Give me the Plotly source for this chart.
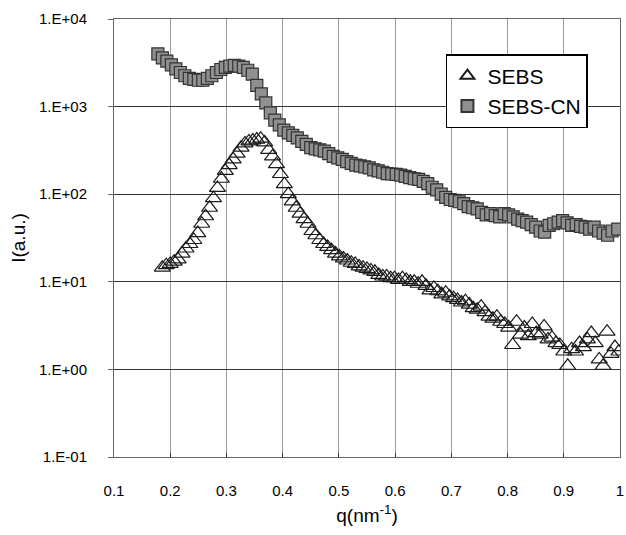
import plotly.graph_objects as go

# SEBS-CN (grey squares)
q_cn = [0.178, 0.186, 0.194, 0.202, 0.210, 0.218, 0.226, 0.234, 0.242, 0.250,
        0.258, 0.266, 0.274, 0.282, 0.290, 0.298, 0.306, 0.314, 0.322, 0.330,
        0.338, 0.346, 0.354, 0.362, 0.370, 0.378, 0.386, 0.394, 0.402, 0.410,
        0.418, 0.426, 0.434, 0.442, 0.450, 0.458, 0.466, 0.474, 0.482, 0.490,
        0.498, 0.506, 0.514, 0.522, 0.530, 0.538, 0.546, 0.554, 0.562, 0.570,
        0.578, 0.586, 0.594, 0.602, 0.610, 0.618, 0.626, 0.634, 0.642, 0.650,
        0.658, 0.666, 0.674, 0.682, 0.690, 0.698, 0.706, 0.714, 0.722, 0.730,
        0.738, 0.746, 0.754, 0.762, 0.770, 0.778, 0.786, 0.794, 0.802, 0.810,
        0.818, 0.826, 0.834, 0.842, 0.850, 0.858, 0.866, 0.874, 0.882, 0.890,
        0.898, 0.906, 0.914, 0.922, 0.930, 0.938, 0.946, 0.954, 0.962, 0.970,
        0.978, 0.986, 0.996]
i_cn = [4000, 3600, 3300, 3000, 2700, 2450, 2250, 2100, 2050, 2000,
        2000, 2100, 2250, 2450, 2650, 2800, 2900, 2950, 2900, 2800,
        2600, 2350, 1750, 1400, 1100, 850, 700, 620, 540, 500,
        470, 440, 400, 370, 340, 330, 320, 310, 290, 270,
        260, 250, 235, 225, 215, 210, 205, 200, 190, 185,
        178, 172, 170, 168, 165, 160, 155, 150, 148, 140,
        132, 120, 112, 100, 92, 87, 85, 82, 78, 72,
        70, 68, 62, 58, 60, 57, 55, 60, 58, 55,
        52, 50, 48, 45, 42, 38, 37, 44, 46, 48,
        50, 47, 44, 45, 43, 42, 40, 42, 38, 36,
        34, 38, 40]

# SEBS (open triangles)
q_sebs = [0.186, 0.193, 0.200, 0.207, 0.214, 0.221, 0.228, 0.235, 0.242, 0.249,
          0.256, 0.263, 0.270, 0.277, 0.284, 0.291, 0.298, 0.305, 0.312, 0.319,
          0.326, 0.333, 0.340, 0.347, 0.354, 0.361, 0.368, 0.375, 0.382, 0.389,
          0.396, 0.403, 0.410, 0.417, 0.424, 0.431, 0.438, 0.445, 0.452, 0.459,
          0.466, 0.473, 0.480, 0.487, 0.494, 0.501, 0.508, 0.515, 0.522, 0.529,
          0.536, 0.543, 0.550, 0.557, 0.564, 0.571, 0.578, 0.585, 0.592, 0.599,
          0.606, 0.613, 0.620, 0.627, 0.634, 0.641, 0.648, 0.655, 0.662, 0.669,
          0.676, 0.683, 0.690, 0.697, 0.704, 0.711, 0.718, 0.725, 0.732, 0.739,
          0.746, 0.753, 0.760, 0.767, 0.774, 0.781, 0.788, 0.795, 0.802, 0.809,
          0.816, 0.823, 0.830, 0.837, 0.844, 0.851, 0.858, 0.865, 0.872, 0.879,
          0.886, 0.893, 0.900, 0.907, 0.914, 0.921, 0.928, 0.935, 0.942, 0.949,
          0.956, 0.963, 0.970, 0.977, 0.984, 0.991, 0.998]
i_sebs = [14.5, 15.5, 16, 17, 18, 21, 24, 27, 30, 36,
          46, 56, 70, 90, 118, 150, 185, 215, 250, 290,
          340, 380, 400, 410, 420, 430, 390, 320, 270, 220,
          170, 130, 100, 83, 70, 60, 52, 46, 38, 34,
          30, 27, 25, 23, 21, 19.5, 18.5, 17.5, 16.5, 16,
          15, 14.5, 14, 13.5, 13, 12, 11.5, 11.5, 11, 11,
          10.5, 11, 10.5, 10, 10, 9.5, 10, 9, 8, 8.5,
          7.8, 7.2, 7.5, 6.8, 6.5, 6.2, 5.8, 6.0, 5.5, 5.0,
          4.8, 5.2, 4.5, 4.0, 3.8, 4.0, 3.5, 3.3, 3.0, 1.9,
          3.5, 2.5, 3.0, 2.4, 3.3, 2.6, 2.5, 3.1, 2.2, 2.3,
          2.0, 1.9, 1.6, 1.1, 1.7, 1.6, 2.0, 1.8, 2.2, 2.6,
          2.0, 1.3, 1.1, 2.7, 1.5, 1.8, 1.6]

x_ticks = [0.1, 0.2, 0.3, 0.4, 0.5, 0.6, 0.7, 0.8, 0.9, 1.0]
x_tick_text = ["0.1", "0.2", "0.3", "0.4", "0.5", "0.6", "0.7", "0.8", "0.9", "1"]
y_ticks = [0.1, 1, 10, 100, 1000, 10000]
y_tick_text = ["1.E-01", "1.E+00", "1.E+01", "1.E+02", "1.E+03", "1.E+04"]

font_family = "Liberation Sans, Arial, sans-serif"

fig = go.Figure()
fig.add_trace(go.Scatter(
    x=q_sebs, y=i_sebs, mode="markers", name="SEBS",
    marker=dict(symbol="triangle-up-open", size=14, color="#1a1a1a",
                line=dict(width=1.2, color="#1a1a1a")),
))
fig.add_trace(go.Scatter(
    x=q_cn, y=i_cn, mode="markers", name="SEBS-CN",
    marker=dict(symbol="square", size=12, color="#909090",
                line=dict(width=1.2, color="#333333")),
))

fig.update_layout(
    width=626, height=535,
    margin=dict(l=114, r=6, t=19, b=78, autoexpand=False),
    paper_bgcolor="white", plot_bgcolor="white",
    font=dict(family=font_family, size=15, color="black"),
    showlegend=True,
    legend=dict(
        x=0.656, y=0.92, xanchor="left", yanchor="top",
        bgcolor="white", bordercolor="black", borderwidth=1.5,
        font=dict(size=21, family=font_family, color="black"),
        itemsizing="constant", tracegroupgap=0, itemwidth=30,
    ),
)
fig.update_xaxes(
    range=[0.1, 1.0], tickvals=x_ticks, ticktext=x_tick_text,
    showgrid=True, gridcolor="#999999", gridwidth=1,
    showline=True, linecolor="#666666", linewidth=1, mirror=True,
    ticks="inside", ticklen=4, tickcolor="#333333",
    ticklabelstandoff=20, automargin=False,
    zeroline=False,
    title=dict(text="q(nm<sup>-1</sup>)", font=dict(size=19), standoff=10),
    tickfont=dict(size=15),
)
fig.update_yaxes(
    type="log", range=[-1, 4], tickvals=y_ticks, ticktext=y_tick_text,
    showgrid=True, gridcolor="#333333", gridwidth=1,
    showline=True, linecolor="#666666", linewidth=1, mirror=True,
    ticks="outside", ticklen=5, tickcolor="#666666",
    ticklabelstandoff=18, automargin=False,
    zeroline=False,
    title=dict(text="I(a.u.)", font=dict(size=19), standoff=8),
    tickfont=dict(size=15),
)

fig.write_html("out.html", config={"displayModeBar": False},
               post_script="document.body.style.margin='0px';")
